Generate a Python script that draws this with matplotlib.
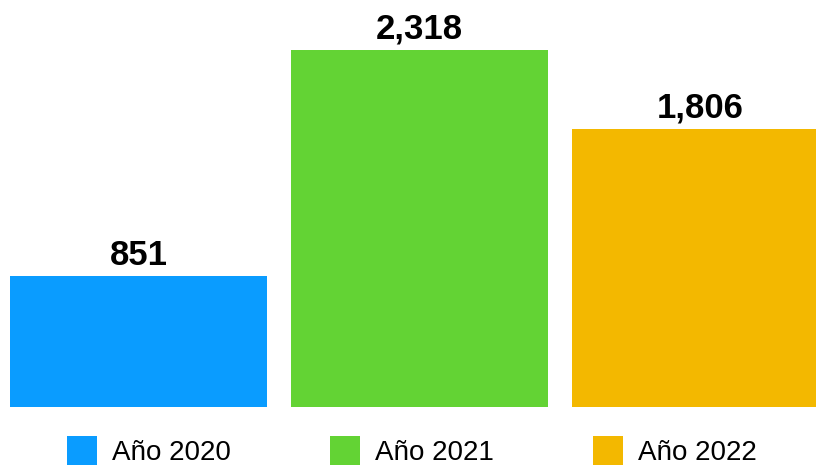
import matplotlib.pyplot as plt
import numpy as np

years = ["Año 2020", "Año 2021", "Año 2022"]
totals = [851, 2318, 1806]
colors = ["#0a9cff", "#63d334", "#f3b800"]

plt.rcParams['font.family'] = ['Liberation Sans', 'DejaVu Sans']

fig = plt.figure(figsize=(8.16, 4.65), dpi=100)
ax = fig.add_axes([0, 58 / 465, 1, 407 / 465])

x = np.arange(len(totals))
bars = ax.bar(x, totals, width=0.915, color=colors, label=years)

# etiquetas de valor encima de cada barra
for b, v in zip(bars, totals):
    ax.annotate(f"{v:,}", (b.get_x() + b.get_width() / 2, v),
                xytext=(0, 3), textcoords="offset points",
                ha="center", va="bottom", fontsize=25, fontweight="bold")

ax.set_xlim(-0.493, 2.411)
ax.set_ylim(0, 2643)
ax.axis("off")

fig.legend(handles=list(bars), labels=years, loc="center", ncol=3,
           bbox_to_anchor=(0.505, 0.03), frameon=False, fontsize=20,
           handlelength=1.08, handleheight=1.3, handletextpad=0.54,
           columnspacing=3.56, borderpad=0)

fig.savefig("out.png", dpi=100)
